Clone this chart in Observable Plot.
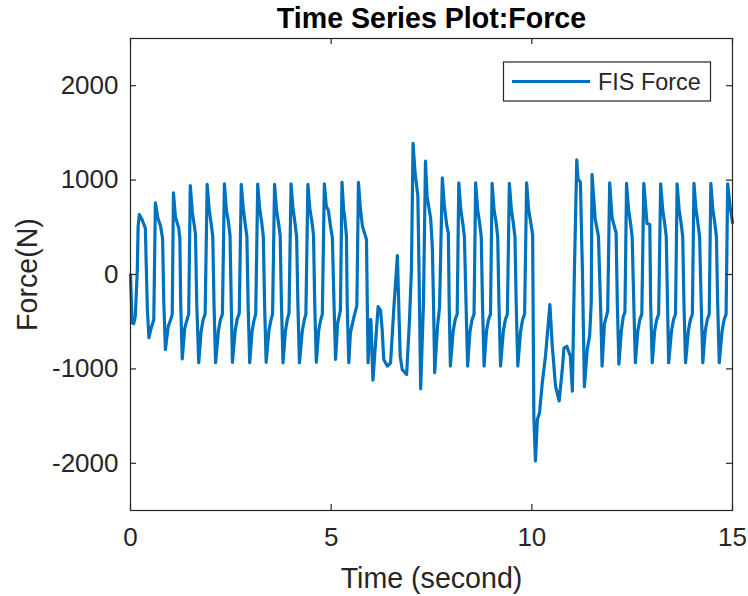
<!DOCTYPE html>
<html><head><meta charset="utf-8">
<script src="https://cdn.jsdelivr.net/npm/d3@7"></script>
<script src="https://cdn.jsdelivr.net/npm/@observablehq/plot@0.6"></script>
<style>
html,body{margin:0;padding:0;background:#fff;}
</style></head><body><div id="chart"></div><script>
// Time samples (s) and FIS force (N)
const time = [
  0.00, 0.04, 0.08, 0.12, 0.17, 0.19, 0.22, 0.29, 0.37, 0.42, 0.46, 0.50, 0.58,
  0.62, 0.68, 0.75, 0.80, 0.83, 0.87, 0.94, 1.00, 1.04,
  1.07, 1.12, 1.20, 1.23, 1.25, 1.29, 1.35, 1.41, 1.45,
  1.49, 1.54, 1.59, 1.62, 1.65, 1.70, 1.76, 1.81, 1.86,
  1.91, 1.96, 2.01, 2.05, 2.08, 2.12, 2.19, 2.24, 2.29,
  2.34, 2.39, 2.44, 2.48, 2.51, 2.54, 2.61, 2.66, 2.71,
  2.76, 2.81, 2.86, 2.90, 2.93, 2.97, 3.03, 3.08, 3.12,
  3.17, 3.22, 3.27, 3.31, 3.34, 3.38, 3.45, 3.50, 3.54,
  3.59, 3.64, 3.69, 3.73, 3.76, 3.80, 3.86, 3.91, 3.95,
  4.00, 4.05, 4.10, 4.14, 4.17, 4.21, 4.28, 4.33, 4.37,
  4.42, 4.47, 4.52, 4.56, 4.59, 4.63, 4.69, 4.74, 4.78,
  4.83, 4.88, 4.93, 4.98, 5.03, 5.07, 5.11, 5.16, 5.20, 5.23,
  5.27, 5.31, 5.34, 5.38, 5.40, 5.44, 5.48, 5.55, 5.64,
  5.68, 5.73, 5.78, 5.88, 5.90, 5.92,
  5.97, 5.99, 6.04, 6.17, 6.23, 6.27, 6.31, 6.40, 6.48, 6.56, 6.65, 6.72, 6.77, 6.88, 6.95, 7.00,
  7.04, 7.09, 7.16, 7.19, 7.23, 7.30,
  7.35, 7.39, 7.48, 7.52, 7.55, 7.58, 7.65, 7.70,
  7.77, 7.82, 7.88, 7.92, 7.94, 7.97, 8.04, 8.09, 8.14,
  8.18, 8.23, 8.28, 8.32, 8.36, 8.40, 8.46, 8.51, 8.56,
  8.60, 8.65, 8.70, 8.74, 8.77, 8.81, 8.87, 8.92, 8.97,
  9.01, 9.06, 9.11, 9.15, 9.18, 9.22, 9.29, 9.34, 9.39,
  9.44, 9.49, 9.54, 9.58, 9.61, 9.65, 9.72, 9.77, 9.82,
  9.87, 9.92, 9.97, 10.02, 10.05, 10.09, 10.14, 10.19, 10.26, 10.34,
  10.45, 10.51, 10.59, 10.68, 10.76, 10.80, 10.87, 10.96, 11.01, 11.06,
  11.12, 11.15, 11.21, 11.26, 11.31, 11.38, 11.44, 11.48,
  11.50, 11.58, 11.66, 11.72, 11.75, 11.81, 11.89,
  11.94, 12.00, 12.10, 12.13, 12.17, 12.23, 12.28, 12.32,
  12.36, 12.41, 12.46, 12.50, 12.54, 12.58, 12.64, 12.69, 12.74,
  12.79, 12.84, 12.87, 12.94, 12.96, 13.00, 13.06, 13.11, 13.16,
  13.21, 13.26, 13.31, 13.35, 13.38, 13.41, 13.48, 13.53, 13.58,
  13.62, 13.67, 13.72, 13.76, 13.79, 13.83, 13.90, 13.95, 14.00,
  14.04, 14.09, 14.14, 14.18, 14.22, 14.26, 14.32, 14.37, 14.42,
  14.46, 14.51, 14.56, 14.60, 14.63, 14.67, 14.74, 14.79, 14.84,
  14.88, 14.94, 15.00
];
const force = [
  0, -510, -520, -440, 50, 510, 635, 580, 490, -370, -670, -590, -480,
  760, 600, 510, 380, -300, -795, -550, -480, -420,
  865, 610, 495, 380, -300, -895, -570, -477, -420,
  943, 660, 520, 420, -300, -935, -600, -480, -420,
  955, 690, 540, 400, -300, -935, -600, -480, -420,
  960, 680, 560, 410, -300, -930, -590, -470, -410,
  955, 700, 530, 400, -310, -935, -600, -480, -420,
  958, 690, 550, 400, -300, -930, -590, -480, -420,
  955, 680, 540, 410, -290, -935, -600, -470, -410,
  960, 700, 540, 400, -300, -935, -600, -480, -420,
  955, 690, 560, 420, -300, -930, -590, -480, -420,
  960, 720, 680, 520, 390, -300, -900, -520, -440, -380,
  975, 690, 600, 410, -330, -935, -620, -480, -330,
  975, 690, 510, 370, -300, -935,
  -477, -480, -1120, -340, -380, -580, -900, -970, -935, -370, 200, -865, -1006, -1060, -500, 50,
  1390, 1080, 830, 20, -1210, -300,
  1200, 830, 590, 300, -300, -1040, -550, -350,
  1025, 730, 520, 440, -300, -970, -600, -480, -420,
  970, 690, 540, 400, -300, -970, -600, -480, -420,
  970, 690, 540, 400, -300, -970, -600, -480, -420,
  965, 680, 550, 400, -300, -970, -600, -480, -420,
  965, 690, 540, 400, -300, -970, -600, -480, -420,
  970, 690, 560, 420, -1500, -1975, -1530, -1470, -1150, -865,
  -320, -760, -1180, -1340, -1000, -780, -760, -865, -1235, 20,
  1215, 1010, 980, 50, -1190, -795, -650, -300,
  1060, 585, 405, -440, -970, -520, -390,
  970, 600, 440, -300, -950, -600, -440, -400,
  965, 690, 540, 400, -300, -935, -600, -480, -420,
  965, 700, 540, 530, -300, -935, -600, -480, -420,
  960, 690, 540, 400, -300, -935, -600, -480, -420,
  960, 690, 540, 400, -300, -935, -600, -480, -420,
  965, 690, 540, 400, -300, -935, -600, -480, -420,
  965, 690, 540, 400, -300, -935, -600, -480, -420,
  960, 720, 550
];
const xTicks = [0, 5, 10, 15];
const yTicks = [-2000, -1000, 0, 1000, 2000];
const xDomain = [0, 15];
const yDomain = [-2500, 2500];
const seriesName = "FIS Force";
const titleText = "Time Series Plot:Force";
const xLabel = "Time (second)";
const yLabel = "Force(N)";

if (time.length !== force.length) console.error("length mismatch", time.length, force.length);
const data = time.map((t, i) => ({t, f: force[i]}));

const W = 748, H = 596, mL = 130, mR = 16, mT = 38, mB = 86;
const innerW = W - mL - mR, innerH = H - mT - mB;
const ink = "#262626";
const blue = "#0072BD";
const font = "'Liberation Sans', Arial, Helvetica, sans-serif";
const fmt = d => String(d);

const plot = Plot.plot({
  width: W, height: H,
  marginLeft: mL, marginRight: mR, marginTop: mT, marginBottom: mB,
  style: {fontFamily: font, color: ink, background: "#fff", overflow: "visible"},
  x: {domain: xDomain},
  y: {domain: yDomain},
  marks: [
    Plot.line(data, {x: "t", y: "f", stroke: blue, strokeWidth: 3.2, strokeLinejoin: "round", strokeLinecap: "round"}),
    Plot.frame({stroke: ink, strokeWidth: 1.2}),
    Plot.tickX(xTicks, {x: d => d, stroke: ink, strokeWidth: 1.2, insetTop: innerH - 6}),
    Plot.tickX(xTicks, {x: d => d, stroke: ink, strokeWidth: 1.2, insetBottom: innerH - 6}),
    Plot.tickY(yTicks, {y: d => d, stroke: ink, strokeWidth: 1.2, insetRight: innerW - 6}),
    Plot.tickY(yTicks, {y: d => d, stroke: ink, strokeWidth: 1.2, insetLeft: innerW - 6}),
    Plot.axisX({ticks: xTicks, tickSize: 0, tickPadding: 17, fontSize: 26, tickFormat: fmt, label: null, fill: ink}),
    Plot.axisY({ticks: yTicks, tickSize: 0, tickPadding: 12, fontSize: 26, tickFormat: fmt, label: null, fill: ink}),
    Plot.text([titleText], {frameAnchor: "top", lineAnchor: "middle", textAnchor: "middle", dy: -20, fontSize: 28.6, fontWeight: "bold", fill: "#000"}),
    Plot.text([xLabel], {frameAnchor: "bottom", lineAnchor: "middle", textAnchor: "middle", dy: 68, fontSize: 28.6, fill: ink}),
    Plot.text([yLabel], {frameAnchor: "left", lineAnchor: "middle", textAnchor: "middle", dx: -103, rotate: -90, fontSize: 28.6, fill: ink})
  ]
});
document.getElementById("chart").appendChild(plot);

// Legend box (top-right, MATLAB style)
const svg = d3.select(plot);
const lg = svg.append("g").attr("class", "legend");
lg.append("rect").attr("x", 503.5).attr("y", 62).attr("width", 207).attr("height", 39)
  .attr("fill", "#fff").attr("stroke", ink).attr("stroke-width", 1.2);
lg.append("line").attr("x1", 512).attr("x2", 590).attr("y1", 81.5).attr("y2", 81.5)
  .attr("stroke", blue).attr("stroke-width", 3.2);
lg.append("text").attr("x", 598).attr("y", 81.5).attr("dy", "0.35em")
  .attr("text-anchor", "start")
  .attr("font-size", 23.4).attr("font-family", font).attr("fill", ink).text(seriesName);
</script></body></html>
